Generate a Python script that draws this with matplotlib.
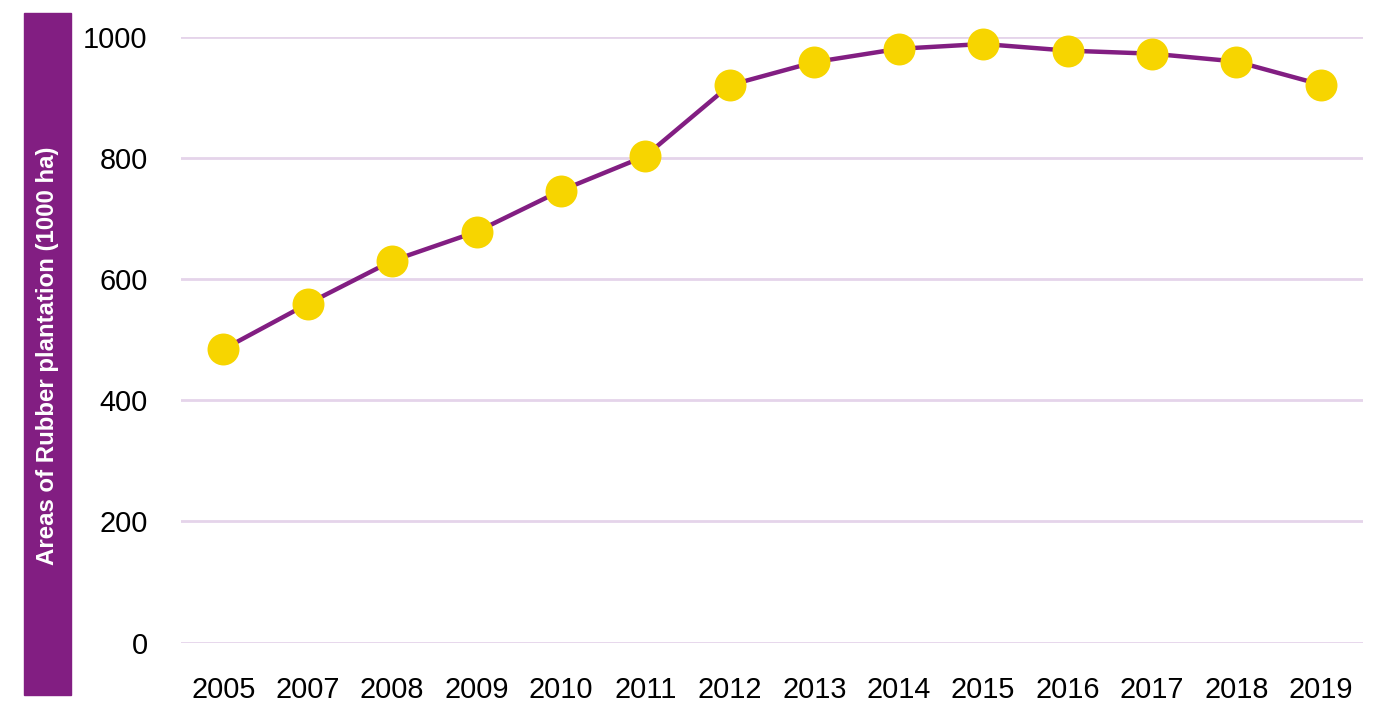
import matplotlib.pyplot as plt
from matplotlib.patches import Rectangle

plt.rcParams['font.family'] = ['Liberation Sans', 'DejaVu Sans']

years = ['2005', '2007', '2008', '2009', '2010', '2011', '2012',
         '2013', '2014', '2015', '2016', '2017', '2018', '2019']
area = [484, 559, 630, 678, 746, 803, 920, 958, 980, 988, 977, 972, 959, 921]

purple = '#821E82'
grid_col = '#E5D4EA'
yellow = '#F7D500'

fig = plt.figure(figsize=(13.79, 7.02), dpi=100)
ax = fig.add_axes([181/1379, 1 - 642.5/702, 1182/1379, 605.8/702])

x = range(len(years))
ax.plot(x, area, color=purple, lw=3.2, zorder=3, clip_on=False)
ax.plot(x, area, 'o', ms=23, color=yellow, mec='none', zorder=4, clip_on=False)

ax.set_xlim(-0.5, len(years) - 0.5)
ax.set_ylim(0, 1000)
ax.set_xticks(list(x))
ax.set_xticklabels(years)
ax.set_yticks([0, 200, 400, 600, 800, 1000])
ax.grid(axis='y', color=grid_col, lw=2)
ax.set_axisbelow(True)
for s in ax.spines.values():
    s.set_visible(False)
ax.tick_params(axis='both', length=0, labelsize=20.8, colors='black')
ax.tick_params(axis='y', pad=24)
ax.tick_params(axis='x', pad=24)

# purple side band holding the y-axis title
fig.patches.append(Rectangle((24/1379, 1 - 695/702), 47/1379, 682/702,
                             transform=fig.transFigure, color=purple, zorder=0))
fig.text(47.5/1379, 1 - 356/702, 'Areas of Rubber plantation (1000 ha)',
         rotation=90, color='white', fontsize=17.3, fontweight='bold',
         ha='center', va='center')

fig.savefig('out.png', dpi=100)
